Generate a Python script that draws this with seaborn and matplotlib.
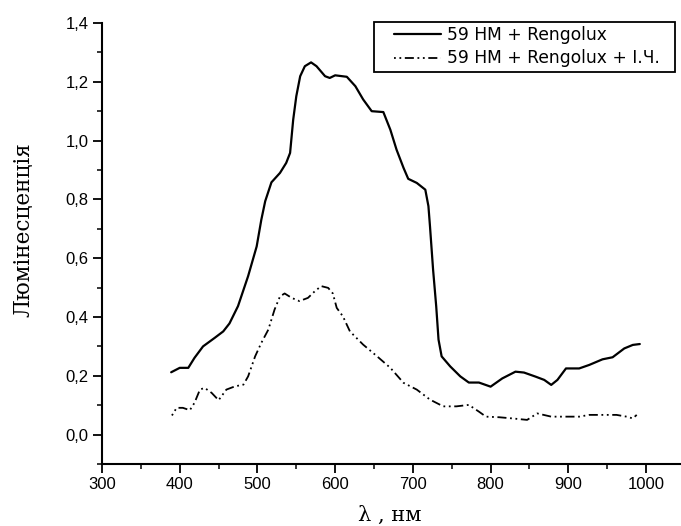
import matplotlib
matplotlib.use("Agg")
import matplotlib.pyplot as plt
from matplotlib.ticker import MultipleLocator, FuncFormatter
from matplotlib.legend_handler import HandlerLine2D
import seaborn as sns

# спектри люмінесценції
wl_1 = [389, 400, 411, 419, 430, 445, 456, 464, 475, 488, 499, 505, 510, 518, 529,
        537, 542, 546, 550, 555, 561, 569, 576, 587, 593, 600, 615, 626, 636, 647,
        662, 671, 679, 688, 694, 705, 716, 720, 722, 726, 730, 733, 737, 748, 761,
        772, 785, 800, 815, 832, 843, 858, 869, 878, 886, 897, 914, 927, 944, 957,
        972, 983, 992]
lum_1 = [0.212, 0.227, 0.227, 0.261, 0.300, 0.329, 0.351, 0.378, 0.437, 0.539, 0.640,
         0.731, 0.794, 0.858, 0.890, 0.924, 0.958, 1.071, 1.151, 1.219, 1.253, 1.266,
         1.253, 1.219, 1.213, 1.222, 1.217, 1.185, 1.140, 1.100, 1.097, 1.037, 0.969,
         0.907, 0.870, 0.856, 0.833, 0.777, 0.709, 0.561, 0.437, 0.323, 0.266, 0.232,
         0.198, 0.177, 0.177, 0.163, 0.191, 0.214, 0.211, 0.197, 0.186, 0.169, 0.186,
         0.225, 0.225, 0.237, 0.256, 0.263, 0.293, 0.305, 0.308]

wl_2 = [390, 396, 404, 413, 419, 426, 432, 441, 450, 460, 471, 482, 488, 497, 505,
        514, 522, 529, 535, 544, 554, 565, 574, 582, 591, 597, 602, 610, 619, 636,
        654, 671, 688, 705, 722, 739, 756, 772, 785, 794, 811, 828, 847, 860, 878,
        897, 914, 927, 949, 962, 975, 983, 988]
lum_2 = [0.065, 0.091, 0.091, 0.083, 0.108, 0.153, 0.159, 0.142, 0.117, 0.153, 0.164,
         0.170, 0.198, 0.266, 0.312, 0.357, 0.425, 0.470, 0.480, 0.465, 0.454, 0.465,
         0.488, 0.505, 0.499, 0.480, 0.431, 0.402, 0.351, 0.306, 0.266, 0.227, 0.176,
         0.153, 0.119, 0.096, 0.096, 0.101, 0.078, 0.061, 0.059, 0.055, 0.050, 0.072,
         0.061, 0.061, 0.061, 0.067, 0.067, 0.067, 0.061, 0.055, 0.067]

labels = ["59 HM + Rengolux", "59 HM + Rengolux + І.Ч."]

sns.set_style("ticks")
plt.rcParams['font.family'] = ['Liberation Sans', 'DejaVu Sans']
plt.rcParams.update({"text.color": "black", "axes.labelcolor": "black",
                     "xtick.color": "black", "ytick.color": "black",
                     "axes.edgecolor": "black"})

fig = plt.figure(figsize=(6.81, 5.26), dpi=100)
ax = fig.add_axes([0.1498, 0.1179, 0.8502, 0.8384])

sns.lineplot(x=wl_1, y=lum_1, color="black", lw=1.6, estimator=None,
             label=labels[0], ax=ax)
sns.lineplot(x=wl_2, y=lum_2, color="black", lw=1.3, estimator=None,
             linestyle=(0, (1, 2, 1, 2, 5, 2)), label=labels[1], ax=ax)

ax.set_xlim(300, 1045)
ax.set_ylim(-0.1, 1.4)
ax.xaxis.set_major_locator(MultipleLocator(100))
ax.xaxis.set_minor_locator(MultipleLocator(50))
ax.yaxis.set_major_locator(MultipleLocator(0.2))
ax.yaxis.set_minor_locator(MultipleLocator(0.1))
ax.yaxis.set_major_formatter(FuncFormatter(lambda v, p: f"{v:.1f}".replace(".", ",").replace("-0,0", "0,0")))

ax.tick_params(which="major", direction="out", length=6.5, width=1.3, labelsize=12, pad=3)
ax.tick_params(which="minor", direction="out", length=3.6, width=1.1)
for s in ["left", "bottom"]:
    ax.spines[s].set_linewidth(1.5)
sns.despine(ax=ax)

ax.set_ylabel("Люмінесценція", family="DejaVu Serif", fontsize=15.5)
ax.yaxis.set_label_coords(-0.116, 0.531)
ax.set_xlabel("λ , нм", family="DejaVu Serif", fontsize=15)
ax.xaxis.set_label_coords(0.497, -0.095)

# зсув лінії у легенді, щоб був відступ зліва
hmap = {h: HandlerLine2D(xpad=0.92) for h in ax.get_lines()}
handles, labs = ax.get_legend_handles_labels()
leg = ax.legend(handles, [l + "  " for l in labs], handler_map=hmap,
                loc="upper right", bbox_to_anchor=(0.991, 0.958),
                bbox_transform=fig.transFigure, fancybox=False, framealpha=1,
                edgecolor="black", prop={"family": "DejaVu Sans", "size": 12.3},
                handlelength=3.67, handletextpad=0.35, borderpad=0.25,
                labelspacing=0.3, borderaxespad=0)
leg.get_frame().set_linewidth(1.3)

fig.savefig("out.png", dpi=100, facecolor="white")
